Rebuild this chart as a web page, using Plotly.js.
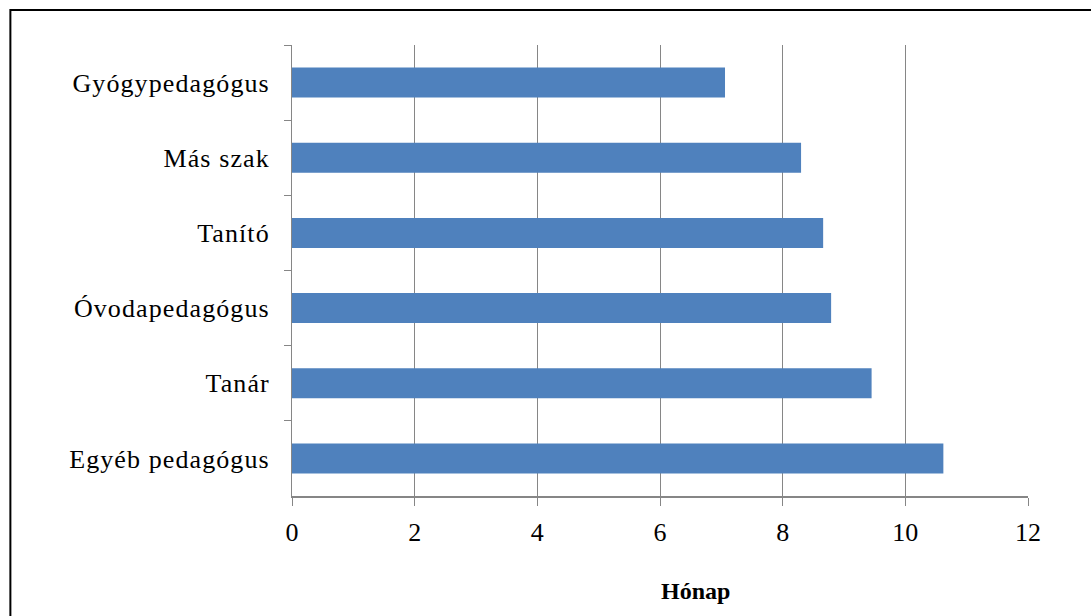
<!DOCTYPE html>
<html>
<head>
<meta charset="utf-8">
<script src="https://cdn.plot.ly/plotly-3.0.1.min.js"></script>
<style>
  html, body { margin: 0; padding: 0; background: #fff; }
  #chart { width: 1091px; height: 616px; }
  #chart .ytick text { letter-spacing: 1.1px; }
</style>
</head>
<body>
<div id="chart"></div>
<script>
// Data (top-to-bottom order as shown)
const categories = ["Gyógypedagógus", "Más szak", "Tanító", "Óvodapedagógus", "Tanár", "Egyéb pedagógus"];
const months = [7.06, 8.30, 8.66, 8.79, 9.45, 10.62];
const xTickValues = [0, 2, 4, 6, 8, 10, 12];
const xAxisTitle = "Hónap";

const W = 1091, H = 616;
const M = { l: 291.5, r: 62.5, t: 45, b: 120 };
const plotW = W - M.l - M.r, plotH = H - M.t - M.b;
const px2x = p => (p - M.l) / plotW;
const py2y = p => (H - M.b - p) / plotH;

const grid = '#868686';
const serif = '"Liberation Serif", "Times New Roman", Times, serif';

const trace = {
  type: 'bar',
  orientation: 'h',
  y: categories,
  x: months,
  marker: { color: '#4F81BD', line: { width: 0 } },
  hoverinfo: 'skip'
};

const layout = {
  width: W, height: H,
  margin: M,
  paper_bgcolor: '#ffffff',
  plot_bgcolor: '#ffffff',
  showlegend: false,
  bargap: 0.6,
  font: { family: serif, color: '#000' },
  xaxis: {
    range: [0, 12],
    tickvals: xTickValues,
    ticktext: xTickValues.map(String),
    showgrid: true, gridcolor: grid, gridwidth: 1,
    zeroline: false,
    showline: true, linecolor: grid, linewidth: 1.5,
    ticks: 'outside', ticklen: 8, tickcolor: grid, tickwidth: 1,
    ticklabelstandoff: 4,
    tickfont: { family: serif, size: 26, color: '#000' },
    fixedrange: true
  },
  yaxis: {
    type: 'category',
    autorange: 'reversed',
    showgrid: false,
    zeroline: false,
    showline: true, linecolor: grid, linewidth: 1,
    ticks: 'outside', ticklen: 7, tickcolor: grid, tickwidth: 1,
    tickson: 'boundaries',
    ticklabelstandoff: 16,
    tickfont: { family: serif, size: 26, color: '#000' },
    fixedrange: true
  },
  annotations: [{
    text: '<b>' + xAxisTitle + '</b>',
    xref: 'paper', yref: 'paper',
    x: px2x(696), y: py2y(591),
    xanchor: 'center', yanchor: 'middle',
    showarrow: false,
    font: { family: serif, size: 24, color: '#000' }
  }],
  shapes: [{
    type: 'rect', xref: 'paper', yref: 'paper',
    x0: px2x(9.5), x1: px2x(1200),
    y0: py2y(700), y1: py2y(10),
    line: { color: '#000', width: 2 },
    fillcolor: 'rgba(0,0,0,0)',
    layer: 'above'
  }]
};

Plotly.newPlot('chart', [trace], layout, { staticPlot: true, displayModeBar: false });
</script>
</body>
</html>
